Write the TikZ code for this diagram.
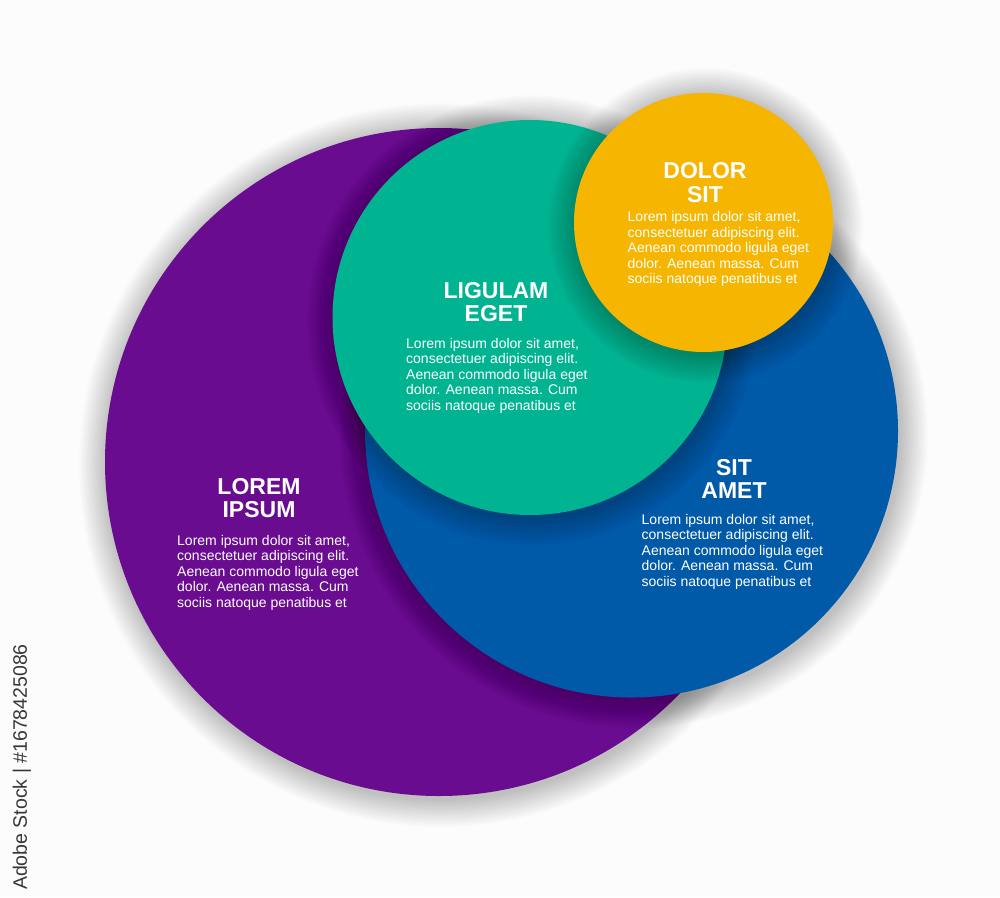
\documentclass[tikz,border=0pt]{standalone}
\usepackage{fontspec}
\setmainfont{Liberation Sans}
\usetikzlibrary{positioning,calc}

\definecolor{loremc}{RGB}{106,12,143}
\definecolor{sitc}{RGB}{0,90,168}
\definecolor{ligulamc}{RGB}{0,180,145}
\definecolor{dolorc}{RGB}{245,181,0}
\definecolor{paper}{RGB}{252,252,252}

\tikzset{
  ttl/.style={text=white,font=\bfseries\fontsize{23}{23.5}\selectfont,align=center,inner sep=0pt},
  txt/.style={text=white,font=\fontsize{14}{15.5}\selectfont,align=left,inner sep=0pt,anchor=north west},
}
% soft shadow, then the disc itself
\newcommand{\softdisc}[3]{%
  \foreach \k in {1,...,20}
    \fill[black,opacity=.011] ($(#1)+(2,3)$) circle ({(#2+1.4*\k)*1pt});
  \fill[#3] (#1) circle ({#2*1pt});
}

\begin{document}
\begin{tikzpicture}[x=1pt,y=-1pt]
  \fill[paper] (0,0) rectangle (1000,897);
  \useasboundingbox (0,0) rectangle (1000,897);

  \coordinate (lorem)   at (439,462);
  \coordinate (sit)     at (631.5,431);
  \coordinate (ligulam) at (530,317.5);
  \coordinate (dolor)   at (703.5,222.5);

  \softdisc{lorem}{334}{loremc}
  \softdisc{sit}{266.5}{sitc}
  \softdisc{ligulam}{197.5}{ligulamc}
  \softdisc{dolor}{129.5}{dolorc}

  \node[ttl] (loremT)   at (259,498)   {LOREM\\IPSUM};
  \node[txt] (loremB)   at (177,535)   {Lorem ipsum dolor sit amet,\\consectetuer adipiscing elit.\\Aenean commodo ligula eget\\dolor. Aenean massa. Cum\\sociis natoque penatibus et};
  \node[ttl] (ligulamT) at (496,302)   {LIGULAM\\EGET};
  \node[txt] (ligulamB) at (406,338)   {Lorem ipsum dolor sit amet,\\consectetuer adipiscing elit.\\Aenean commodo ligula eget\\dolor. Aenean massa. Cum\\sociis natoque penatibus et};
  \node[ttl] (dolorT)   at (705,182.5) {DOLOR\\SIT};
  \node[txt] (dolorB)   at (627.5,211.5) {Lorem ipsum dolor sit amet,\\consectetuer adipiscing elit.\\Aenean commodo ligula eget\\dolor. Aenean massa. Cum\\sociis natoque penatibus et};
  \node[ttl] (sitT)     at (734,479)   {SIT\\AMET};
  \node[txt] (sitB)     at (641.5,514) {Lorem ipsum dolor sit amet,\\consectetuer adipiscing elit.\\Aenean commodo ligula eget\\dolor. Aenean massa. Cum\\sociis natoque penatibus et};

  \node[rotate=90,text={rgb,255:red,55;green,55;blue,55},font=\fontsize{19.5}{19.5}\selectfont,inner sep=0pt] (stock) at (22,767) {Adobe Stock | \#1678425086};
\end{tikzpicture}
\end{document}
